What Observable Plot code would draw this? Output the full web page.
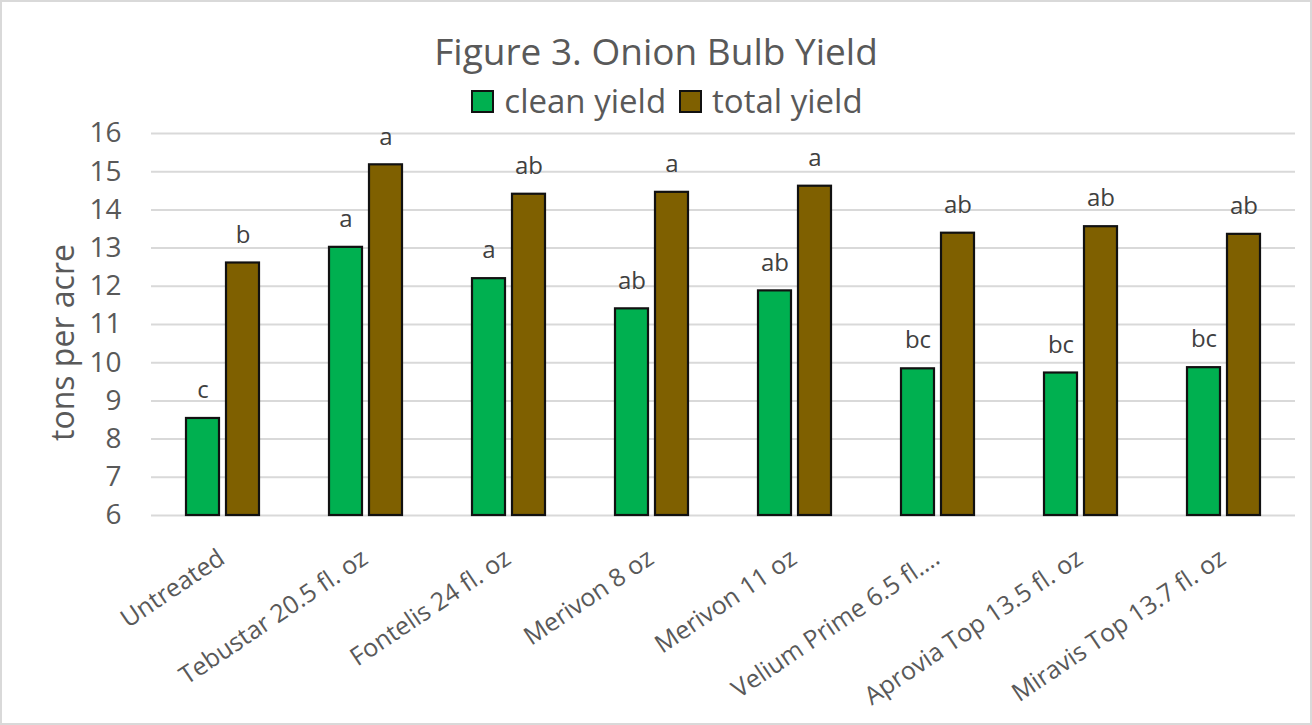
<!DOCTYPE html>
<html>
<head>
<meta charset="utf-8">
<script src="https://cdn.jsdelivr.net/npm/d3@7"></script>
<script src="https://cdn.jsdelivr.net/npm/@observablehq/plot@0.6"></script>
<style>
  html, body { margin: 0; padding: 0; background: #fff; }
  #wrap {
    width: 1312px; height: 725px; box-sizing: border-box;
    border: 2px solid #d9d9d9; overflow: hidden; background: #fff;
    font-family: "Open Sans", sans-serif; color: #595959;
  }
  #header { height: 118px; position: relative; }
  #title {
    position: absolute; left: 0; right: 0; top: 27px; text-align: center;
    font-size: 37px; line-height: 44px; color: #595959; white-space: nowrap;
  }
  #legend {
    position: absolute; left: 22px; right: 0; top: 81px; height: 36px;
    font-size: 33px; line-height: 36px; color: #595959;
    display: flex; justify-content: center; align-items: center; gap: 13px; white-space: nowrap;
  }
  .sw { display: inline-block; width: 19px; height: 19px; border: 2px solid #111; margin-right: 10px; }
  .item { display: inline-flex; align-items: center; }
</style>
</head>
<body>
<div id="wrap">
  <div id="header">
    <div id="title"></div>
    <div id="legend"></div>
  </div>
  <div id="chart"></div>
</div>
<script>
// ---- data ----
const titleText = "Figure 3. Onion Bulb Yield";
const yLabel = "tons per acre";
const categories = [
  "Untreated",
  "Tebustar 20.5 fl. oz",
  "Fontelis 24 fl. oz",
  "Merivon 8 oz",
  "Merivon 11 oz",
  "Velium Prime 6.5 fl.…",
  "Aprovia Top 13.5 fl. oz",
  "Miravis Top 13.7 fl. oz"
];
const seriesNames = ["clean yield", "total yield"];
const seriesColors = ["#00b050", "#7f6000"];
const cleanYield = [8.54, 13.02, 12.20, 11.41, 11.88, 9.84, 9.73, 9.87];
const totalYield = [12.61, 15.18, 14.41, 14.46, 14.62, 13.39, 13.56, 13.36];
const cleanLetters = ["c", "a", "a", "ab", "ab", "bc", "bc", "bc"];
const totalLetters = ["b", "a", "ab", "a", "a", "ab", "ab", "ab"];
const yTicks = [6, 7, 8, 9, 10, 11, 12, 13, 14, 15, 16];

// ---- build table ----
const rows = [];
categories.forEach((c, i) => {
  rows.push({cat: c, series: seriesNames[0], value: cleanYield[i], letter: cleanLetters[i]});
  rows.push({cat: c, series: seriesNames[1], value: totalYield[i], letter: totalLetters[i]});
});
const yMin = yTicks[0], yMax = yTicks[yTicks.length - 1];

// ---- header ----
document.getElementById("title").textContent = titleText;
const legend = document.getElementById("legend");
seriesNames.forEach((s, i) => {
  const it = document.createElement("span");
  it.className = "item";
  const sw = document.createElement("span");
  sw.className = "sw";
  sw.style.background = seriesColors[i];
  it.appendChild(sw);
  it.appendChild(document.createTextNode(s));
  legend.appendChild(it);
});

// ---- chart ----
const chart = Plot.plot({
  width: 1308,
  height: 603,
  marginTop: 13,
  marginLeft: 145,
  marginRight: 12,
  marginBottom: 208,
  style: {fontFamily: "'Open Sans', sans-serif", color: "#595959", background: "#fff", overflow: "visible"},
  fx: {domain: categories, padding: 0, label: null},
  x: {domain: seriesNames, paddingInner: 0.17, paddingOuter: 0.84, axis: null},
  y: {domain: [yMin, yMax], label: null},
  color: {domain: seriesNames, range: seriesColors},
  marks: [
    Plot.gridY(yTicks, {stroke: "#d9d9d9", strokeOpacity: 1, strokeWidth: 2}),
    Plot.barY(rows, {fx: "cat", x: "series", y1: yMin, y2: "value", fill: "series", stroke: "#111", strokeWidth: 2.2}),
    Plot.text(rows, {fx: "cat", x: "series", y: "value", text: "letter", dy: -28, fontSize: 24, fill: "#404040"}),
    Plot.axisY(yTicks, {tickSize: 0, tickPadding: 30, fontSize: 28, fill: "#595959", label: null, tickFormat: d => String(d)}),
    Plot.text([yLabel], {frameAnchor: "left", facetAnchor: "left", textAnchor: "middle", rotate: -90, dx: -88, dy: 18, fontSize: 32, fill: "#595959", text: d => d}),
    Plot.axisFx({anchor: "bottom", tickRotate: -34, tickSize: 0, tickPadding: 40, dx: -1, fontSize: 25, fill: "#595959", label: null})
  ]
});
document.getElementById("chart").appendChild(chart);
</script>
</body>
</html>
